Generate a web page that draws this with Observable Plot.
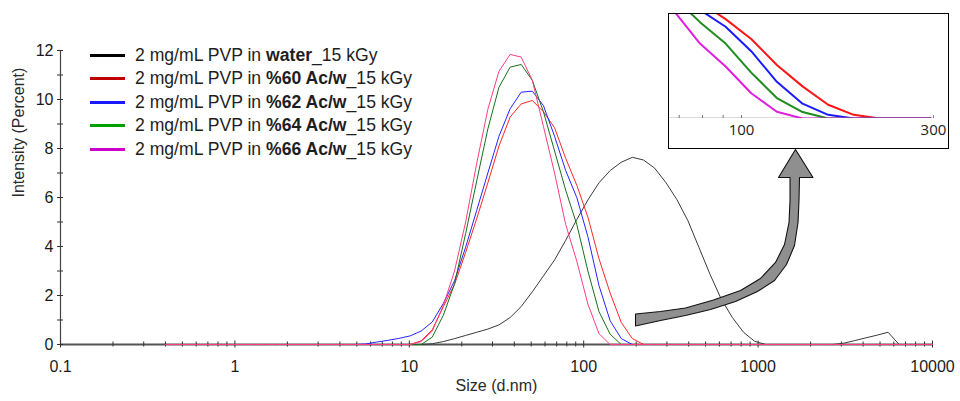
<!DOCTYPE html>
<html><head><meta charset="utf-8">
<script src="https://cdn.jsdelivr.net/npm/d3@7"></script>
<script src="https://cdn.jsdelivr.net/npm/@observablehq/plot@0.6"></script>
<style>
html,body{margin:0;padding:0;background:#fff;}
#wrap{position:relative;width:960px;height:401px;font-family:"Liberation Sans",Arial,sans-serif;}
#wrap > svg{position:absolute;left:0;top:0;}
#legend{position:absolute;left:90px;top:43.5px;font-size:17.6px;color:#1e1e1e;}
.row{height:23.5px;white-space:nowrap;display:flex;align-items:center;}
.sw{display:inline-block;width:35px;height:3px;margin-right:10px;}
#inset{position:absolute;left:668px;top:13px;width:281px;height:136px;border:1px solid #000;box-sizing:border-box;background:#fff;overflow:hidden;}
</style></head><body><div id="wrap"><div id="legend"></div><div id="inset"></div></div>
<script>
// Size bins (d.nm)
const sizes = [0.4,0.4632,0.5365,0.6213,0.7195,0.8332,0.9649,1.117,1.294,1.499,
  1.736,2.01,2.328,2.696,3.122,3.615,4.187,4.849,5.615,6.503,
  7.531,8.721,10.1,11.7,13.54,15.69,18.17,21.04,24.36,28.21,
  32.67,37.84,43.82,50.75,58.77,68.06,78.82,91.28,105.7,122.4,
  141.8,164.2,190.1,220.2,255.0,295.3,342.0,396.1,458.7,531.2,
  615.1,712.4,825.0,955.4,1106,1281,1484,1718,1990,2305,
  2669,3091,3580,4145,4801,5560,6439,7456,8635,10000];

// Intensity (%) per series
const water = [0,0,0,0,0,0,0,0,0,0,
  0,0,0,0,0,0,0,0,0,0,
  0,0,0,0,0.03,0.12,0.24,0.37,0.5,0.63,
  0.8,1.1,1.55,2.15,2.8,3.45,4.25,5.1,5.9,6.6,
  7.1,7.44,7.64,7.53,7.2,6.62,5.92,5.05,3.95,2.85,
  1.85,1.1,0.5,0.13,0,0,0,0,0,0,
  0,0.05,0.16,0.27,0.38,0.5,0,0,0,0];
const ac60 = [0,0,0,0,0,0,0,0,0,0,
  0,0,0,0,0,0,0,0,0,0,
  0,0,0,0.15,0.6,1.55,2.45,3.76,5.14,6.6,
  8.1,9.28,9.82,9.96,9.5,8.85,7.6,6.5,5.2,3.5,
  2.1,0.9,0.24,0,0,0,0,0,0,0,
  0,0,0,0,0,0,0,0,0,0,
  0,0,0,0,0,0,0,0,0,0];
const ac62 = [0,0,0,0,0,0,0,0,0,0,
  0,0,0,0,0,0,0,0,0.02,0.1,
  0.17,0.25,0.35,0.55,0.92,1.68,2.6,3.97,5.48,7.0,
  8.5,9.62,10.3,10.34,9.75,8.5,7.1,6.0,4.4,2.4,
  0.97,0.24,0,0,0,0,0,0,0,0,
  0,0,0,0,0,0,0,0,0,0,
  0,0,0,0,0,0,0,0,0,0];
const ac64 = [0,0,0,0,0,0,0,0,0,0,
  0,0,0,0,0,0,0,0,0,0,
  0,0,0,0,0.3,1.2,2.48,4.53,6.68,8.8,
  10.5,11.32,11.43,10.78,9.5,7.9,6.3,4.9,3.0,1.34,
  0.42,0,0,0,0,0,0,0,0,0,
  0,0,0,0,0,0,0,0,0,0,
  0,0,0,0,0,0,0,0,0,0];
const ac66 = [0,0,0,0,0,0,0,0,0,0,
  0,0,0,0,0,0,0,0,0,0,
  0,0,0,0.12,0.55,1.6,3.0,5.0,7.4,9.6,
  11.15,11.84,11.73,10.78,8.9,7.0,4.9,3.4,1.65,0.44,
  0,0,0,0,0,0,0,0,0,0,
  0,0,0,0,0,0,0,0,0,0,
  0,0,0,0,0,0,0,0,0,0];

const seriesValues = [water, ac60, ac62, ac64, ac66];
const seriesNames = ["water", "%60 Ac/w", "%62 Ac/w", "%64 Ac/w", "%66 Ac/w"];
const legendPrefix = "2 mg/mL PVP in ";
const legendSuffix = "_15 kGy";
const lineColors = ["#3a3a3a", "#ff2626", "#2424ff", "#16701a", "#ff3c80"];
const legendColors = ["#000000", "#c00000", "#1a1aff", "#00a000", "#cc00cc"];
const insetColors = ["#ff1414", "#1a1aff", "#1e8c1e", "#e01ee0"];

// Axis ticks
const xMajor = [0.1, 1, 10, 100, 1000, 10000];
const xMinor = [0.2,0.3,0.4,0.5,0.6,0.7,0.8,0.9, 2,3,4,5,6,7,8,9, 20,30,40,50,60,70,80,90,
  200,300,400,500,600,700,800,900, 2000,3000,4000,5000,6000,7000,8000,9000];
const yMajor = [0, 2, 4, 6, 8, 10, 12];
const yAll = [0,1,2,3,4,5,6,7,8,9,10,11,12];
const insetTicks = [70, 80, 90, 100, 200, 300];
const insetLabels = [100, 300];

// Annotation arrow outline (size, intensity)
const arrowSize = [198.2,275.7,383.5,555.0,792.8,1032,1258.5,1417,1504,1524,1524,
  1309,1638,2064,1727,
  1716,1694,1617,1455,1242,992,742,533.6,383.5,275.7,198.2,198.2];
const arrowValue = [1.245,1.347,1.490,1.816,2.204,2.694,3.347,4.082,4.980,5.878,6.816,
  6.816,7.959,6.816,6.816,
  5.878,4.980,4.041,3.265,2.612,2.163,1.755,1.429,1.184,0.980,0.755,1.245];

const rows = seriesValues.map((vals) => sizes.map((s, i) => ({size: s, value: vals[i]})));
const arrowPts = arrowSize.map((s, i) => ({size: s, value: arrowValue[i]}));

const main = Plot.plot({
  width: 960, height: 401,
  marginLeft: 60, marginRight: 28, marginTop: 50, marginBottom: 57,
  x: {type: "log", domain: [0.1, 10000]},
  y: {domain: [0, 12]},
  style: {fontFamily: "Liberation Sans, Arial, sans-serif", fontSize: "16px", color: "#1a1a1a", background: "white"},
  marks: [
    Plot.ruleX([0.1], {stroke: "#444", strokeWidth: 1.2}),
    Plot.ruleY([0], {stroke: "#555", strokeWidth: 2}),
    Plot.axisX({ticks: xMajor, tickSize: 7, dy: -3.5, tickFormat: () => "", stroke: "#333", label: null}),
    Plot.axisX({ticks: xMinor, tickSize: 5, dy: -2.5, tickFormat: () => "", stroke: "#333", label: null}),
    Plot.axisX({ticks: xMajor, tickSize: 0, tickPadding: 16, tickFormat: (d) => String(d), label: null, fontSize: 16}),
    Plot.axisY({ticks: yAll, tickSize: 6, dx: 3, tickFormat: () => "", stroke: "#333", label: null}),
    Plot.axisY({ticks: yMajor, tickSize: 0, tickPadding: 7, tickFormat: (d) => String(d), label: null, fontSize: 16}),
    Plot.text(["Size (d.nm)"], {text: (d) => d, frameAnchor: "bottom", dy: 46, fontSize: 16, fill: "#2a2a2a"}),
    Plot.text(["Intensity (Percent)"], {text: (d) => d, frameAnchor: "left", rotate: -90, dx: -42, fontSize: 16, fill: "#2a2a2a"}),
    ...rows.map((r, k) => Plot.line(r, {x: "size", y: "value", stroke: lineColors[k], strokeWidth: 1})),
    Plot.line(arrowPts, {x: "size", y: "value", fill: "#8f8f8f", stroke: "#111", strokeWidth: 1.1})
  ]
});
document.getElementById("wrap").prepend(main);

// Legend
const legend = document.getElementById("legend");
seriesNames.forEach((name, k) => {
  const row = document.createElement("div");
  row.className = "row";
  const sw = document.createElement("span");
  sw.className = "sw";
  sw.style.background = legendColors[k];
  row.appendChild(sw);
  const t = document.createElement("span");
  t.appendChild(document.createTextNode(legendPrefix));
  const b = document.createElement("b");
  b.textContent = name;
  t.appendChild(b);
  t.appendChild(document.createTextNode(legendSuffix));
  row.appendChild(t);
  legend.appendChild(row);
});

// Inset (zoom on the tails)
const insetSizes = sizes.filter((s) => s >= 50 && s <= 300);
const insetRows = seriesValues.slice(1).map((vals) => sizes.map((s, i) => ({size: s, value: vals[i]})).filter((d) => d.size >= 50 && d.size <= 300));
const inset = Plot.plot({
  width: 279, height: 134,
  marginLeft: 0, marginRight: 0, marginTop: 0, marginBottom: 30,
  x: {type: "log", domain: [66.2, 327]},
  y: {domain: [0, 6.8], axis: null},
  style: {fontFamily: "Open Sans, sans-serif", fontSize: "14px", color: "#222", background: "white"},
  marks: [
    Plot.ruleY([0], {x1: insetSizes[0], x2: insetSizes[insetSizes.length - 1], stroke: "#b8b8b8", strokeWidth: 2, clip: true}),
    Plot.axisX({ticks: insetTicks, tickSize: 3, dy: -3, tickFormat: () => "", stroke: "#777", label: null}),
    Plot.axisX({ticks: insetLabels, tickSize: 0, tickPadding: 6, tickFormat: (d) => String(d), label: null, fontSize: 15}),
    ...insetRows.map((r, k) => Plot.line(r, {x: "size", y: "value", stroke: insetColors[k], strokeWidth: 2, clip: true}))
  ]
});
document.getElementById("inset").appendChild(inset);
</script>
</body></html>
